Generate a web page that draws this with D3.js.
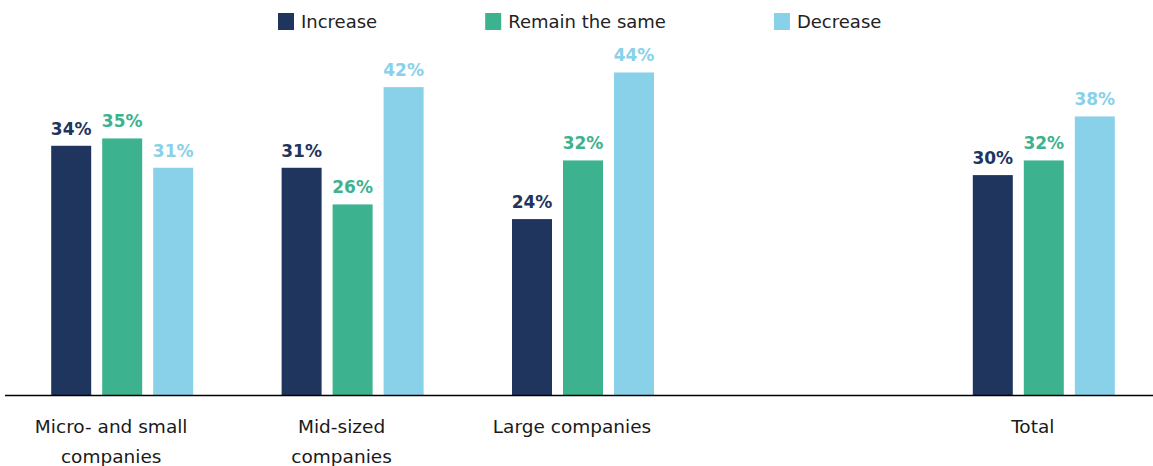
<!DOCTYPE html>
<html>
<head>
<meta charset="utf-8">
<script src="https://cdn.jsdelivr.net/npm/d3@7"></script>
<style>
  html, body { margin: 0; padding: 0; background: #fff; }
  svg { display: block; }
</style>
</head>
<body>
<svg id="chart" width="1153" height="466"></svg>
<script>
// Categories (an empty slot separates the company sizes from the total)
const categories = ["Micro- and small|companies", "Mid-sized|companies", "Large companies", "", "Total"];
const seriesNames = ["Increase", "Remain the same", "Decrease"];
const increase = [34, 31, 24, null, 30];
const remainSame = [35, 26, 32, null, 32];
const decrease = [31, 42, 44, null, 38];
const seriesColors = ["#1f355e", "#3db28e", "#89d0e9"];

const seriesValues = [increase, remainSame, decrease];

const svg = d3.select("#chart");
const W = 1153;
const baseY = 395;

const x = d3.scaleBand().domain(d3.range(categories.length)).range([7, 1159]).padding(0);
const xInner = d3.scaleBand().domain(d3.range(seriesNames.length)).range([-71, 71]).paddingInner(11 / 51).paddingOuter(0);
const y = d3.scaleLinear().domain([0, 50]).range([baseY, baseY - 50 * 7.33]);

const fontLabel = "'DejaVu Sans', 'Noto Sans', sans-serif";

// Bars and value labels
const groups = svg.append("g").selectAll("g")
  .data(categories.map((c, i) => ({ c, i })))
  .join("g")
  .attr("transform", d => `translate(${x(d.i) + x.bandwidth() / 2},0)`);

groups.each(function(d) {
  const g = d3.select(this);
  seriesValues.forEach((vals, s) => {
    const v = vals[d.i];
    if (v == null) return;
    g.append("rect")
      .attr("x", xInner(s))
      .attr("y", y(v))
      .attr("width", xInner.bandwidth())
      .attr("height", baseY - y(v))
      .attr("fill", seriesColors[s]);
    g.append("text")
      .attr("x", xInner(s) + xInner.bandwidth() / 2)
      .attr("y", y(v) - 11)
      .attr("text-anchor", "middle")
      .attr("font-family", fontLabel)
      .attr("font-weight", "bold")
      .attr("font-size", 17)
      .attr("fill", seriesColors[s])
      .text(v + "%");
  });
});

// Baseline
svg.append("line")
  .attr("x1", 5).attr("x2", W)
  .attr("y1", baseY + 0.5).attr("y2", baseY + 0.5)
  .attr("stroke", "#000").attr("stroke-width", 1.3);

// Category labels
const catG = svg.append("g");
categories.forEach((c, i) => {
  if (!c) return;
  const lines = c.split("|");
  const t = catG.append("text")
    .attr("text-anchor", "middle")
    .attr("font-family", fontLabel)
    .attr("font-size", 18.5)
    .attr("fill", "#1a1a1a");
  lines.forEach((ln, k) => {
    t.append("tspan")
      .attr("x", x(i) + x.bandwidth() / 2 - 11)
      .attr("y", 433 + k * 30)
      .text(ln);
  });
});

// Legend
const legend = svg.append("g");
let lx = 278;
seriesNames.forEach((name, s) => {
  legend.append("rect")
    .attr("x", lx).attr("y", 13)
    .attr("width", 16).attr("height", 17)
    .attr("fill", seriesColors[s]);
  const t = legend.append("text")
    .attr("x", lx + 23).attr("y", 28)
    .attr("font-family", fontLabel)
    .attr("font-size", 18)
    .attr("fill", "#222")
    .text(name);
  lx += 23 + t.node().getComputedTextLength() + 108;
});
</script>
</body>
</html>
